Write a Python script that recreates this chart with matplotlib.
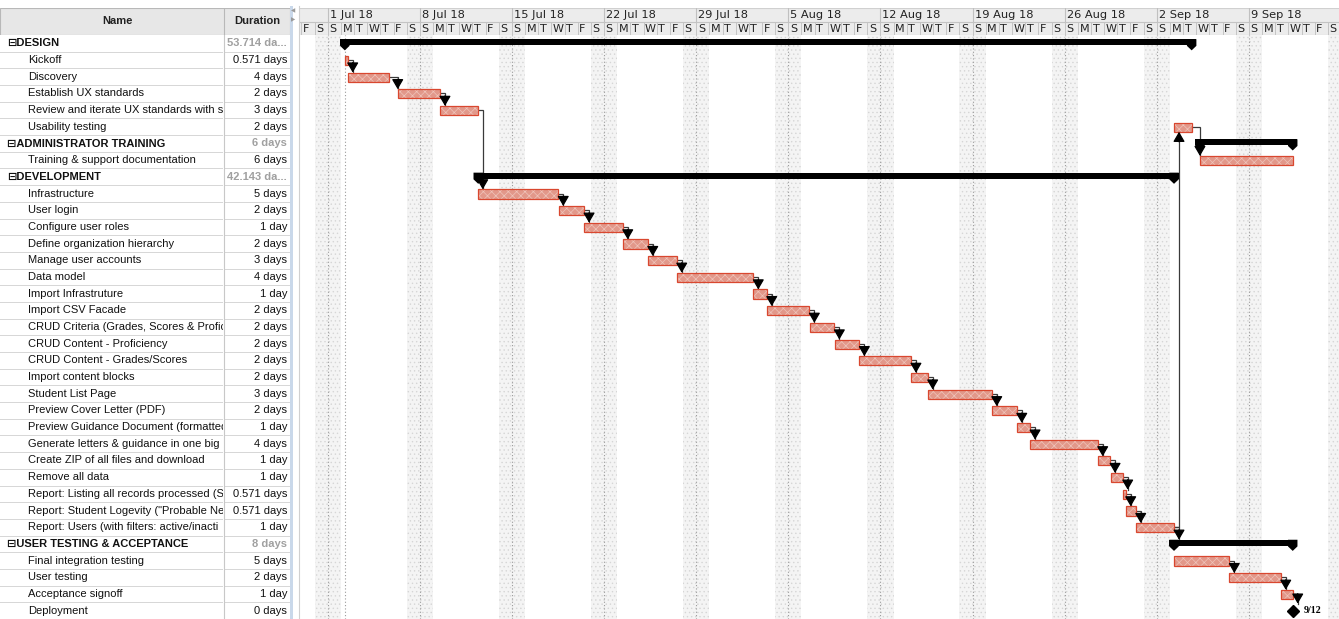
import matplotlib
matplotlib.use("Agg")
import matplotlib.pyplot as plt
from matplotlib.patches import Rectangle, Polygon

plt.rcParams["hatch.linewidth"] = 0.5

# ---------------- data ----------------
names = ["DESIGN", "Kickoff", "Discovery", "Establish UX standards",
         "Review and iterate UX standards with s", "Usability testing",
         "ADMINISTRATOR TRAINING", "Training & support documentation",
         "DEVELOPMENT", "Infrastructure", "User login", "Configure user roles",
         "Define organization hierarchy", "Manage user accounts", "Data model",
         "Import Infrastruture", "Import CSV Facade",
         "CRUD Criteria (Grades, Scores & Profic", "CRUD Content - Proficiency",
         "CRUD Content - Grades/Scores", "Import content blocks",
         "Student List Page", "Preview Cover Letter (PDF)",
         "Preview Guidance Document (formatted",
         "Generate letters & guidance in one big",
         "Create ZIP of all files and download", "Remove all data",
         "Report: Listing all records processed (S",
         "Report: Student Logevity (\"Probable Ne",
         "Report: Users (with filters: active/inacti",
         "USER TESTING & ACCEPTANCE", "Final integration testing",
         "User testing", "Acceptance signoff", "Deployment"]
durations = ["53.714 da...", "0.571 days", "4 days", "2 days", "3 days", "2 days",
             "6 days", "6 days", "42.143 da...", "5 days", "2 days", "1 day",
             "2 days", "3 days", "4 days", "1 day", "2 days", "2 days", "2 days",
             "2 days", "2 days", "3 days", "2 days", "1 day", "4 days", "1 day",
             "1 day", "0.571 days", "0.571 days", "1 day", "8 days", "5 days",
             "2 days", "1 day", "0 days"]
summary_rows = [0, 6, 8, 30]
summary_children = {0: [1, 2, 3, 4, 5], 6: [7], 8: list(range(9, 30)),
                    30: [31, 32, 33, 34]}
# task start / finish, in days after 1 Jul 2018 00:00 (None for summaries)
starts = [None, 1.30, 1.52, 5.32, 8.56, 64.31, None, 66.28, None,
          11.44, 17.60, 19.50, 22.44, 24.36, 26.57, 32.34, 33.36, 36.65, 38.57,
          40.40, 44.35, 45.64, 50.50, 52.36, 53.37, 58.56, 59.50, 60.46, 60.64,
          61.42, None, 64.31, 68.51, 72.42, 73.33]
ends = [None, 1.52, 4.68, 8.53, 11.40, 65.65, None, 73.33, None,
        17.52, 19.48, 22.42, 24.32, 26.52, 32.34, 33.36, 36.60, 38.50, 40.40,
        44.32, 45.59, 50.46, 52.36, 53.37, 58.51, 59.45, 60.41, 60.64, 61.40,
        64.31, None, 68.51, 72.42, 73.33, 73.33]
milestone_rows = [34]
milestone_labels = ["9/12"]
links = [(1, 2), (2, 3), (3, 4), (4, 9)] + [(i, i + 1) for i in range(9, 29)] + \
        [(29, 5), (29, 30), (5, 7), (31, 32), (32, 33), (33, 34)]
week_labels = ["1 Jul 18", "8 Jul 18", "15 Jul 18", "22 Jul 18", "29 Jul 18",
               "5 Aug 18", "12 Aug 18", "19 Aug 18", "26 Aug 18", "2 Sep 18",
               "9 Sep 18"]
day_letters = ["S", "M", "T", "W", "T", "F", "S"]   # Sunday first

for s in summary_rows:
    ch = summary_children[s]
    starts[s] = min(starts[c] for c in ch)
    ends[s] = max(ends[c] for c in ch)

# ---------------- layout ----------------
W, H = 1339, 619
HDR_TOP, HDR_BOT = 8, 35
NAME_W, TABLE_W, GANTT_X = 224, 290, 299
DAY0_X, PX_DAY = 327.7, 13.16
N = len(names)
FONT = ["Liberation Sans", "DejaVu Sans"]

fig = plt.figure(figsize=(W / 100, H / 100), dpi=100)


def box(x0, y0, x1, y1):
    return [x0 / W, 1 - y1 / H, (x1 - x0) / W, (y1 - y0) / H]


def bare(ax):
    ax.set_axis_off()
    return ax


xlim = ((GANTT_X - DAY0_X) / PX_DAY, (W - DAY0_X) / PX_DAY)
ylim = (N - 0.5, -0.5)

# ---------- gantt body ----------
ax = bare(fig.add_axes(box(GANTT_X, HDR_BOT, W, H)))
ax.set_xlim(*xlim)
ax.set_ylim(*ylim)

d = -8
while d < xlim[1] + 7:
    if d % 7 == 6:   # Saturday + Sunday shading
        ax.axvspan(d, d + 2, facecolor="#f4f4f4", edgecolor="#d6d6d6",
                   hatch="....", lw=0, zorder=0)
    if d % 7 == 0:
        ax.axvline(d, color="#9a9a9a", lw=0.8, ls=(0, (1, 2)), zorder=0.5)
    d += 1
ax.axvline(min(s for s in starts), color="#9a9a9a", lw=0.8, ls=(0, (1, 2)),
           zorder=0.5)

BAR_TOP, BAR_BOT = 0.25, 0.30
for i in range(N):
    s, e = starts[i], ends[i]
    if i in summary_rows:
        cap = 0.36
        ax.add_patch(Rectangle((s - cap, i - 0.25), (e - s) + 2 * cap, 0.36,
                               facecolor="black", edgecolor="none", zorder=3))
        for x in (s, e):
            ax.add_patch(Polygon([(x - cap, i - 0.25), (x + cap, i - 0.25),
                                  (x + cap, i + 0.15), (x, i + 0.42),
                                  (x - cap, i + 0.15)], closed=True,
                                 facecolor="black", edgecolor="none", zorder=3))
    elif i in milestone_rows:
        ax.plot([s], [i], marker="D", ms=6.5, color="black", zorder=4)
        lab = milestone_labels[milestone_rows.index(i)]
        ax.text(s + 0.85, i, lab, fontsize=7.2, fontweight="bold",
                family=["Liberation Serif", "DejaVu Serif"], va="center",
                ha="left", zorder=4)
    else:
        wdt = max(e - s, 0.12)
        ax.add_patch(Rectangle((s, i - BAR_TOP), wdt, BAR_TOP + BAR_BOT,
                               facecolor="#e2988a", edgecolor="#f0c4ba",
                               lw=0, hatch="xxxx", zorder=3))
        ax.add_patch(Rectangle((s, i - BAR_TOP), wdt, BAR_TOP + BAR_BOT,
                               fill=False, edgecolor="#d9472f", lw=0.9,
                               zorder=3.1))

for p, s in links:
    xa = max(ends[p] + 0.38, starts[s])
    if s > p:
        yt = s - (0.25 if s in summary_rows else BAR_TOP)
        if s in milestone_rows:
            yt = s - 0.42
    else:
        yt = s + BAR_BOT
    ax.plot([ends[p], xa, xa], [p, p, yt], color="#3a3a3a", lw=0.9,
            zorder=2, solid_joinstyle="miter")
    direction = 1 if s > p else -1
    ax.annotate("", xy=(xa, yt), xytext=(xa, yt - direction * 0.6),
                arrowprops=dict(arrowstyle="-|>,head_length=0.6,head_width=0.35",
                                mutation_scale=10, color="black", lw=0.9,
                                shrinkA=0, shrinkB=0), zorder=5)

# ---------- gantt header ----------
axh = bare(fig.add_axes(box(GANTT_X, HDR_TOP, W, HDR_BOT)))
axh.set_xlim(*xlim)
axh.set_ylim(HDR_BOT - HDR_TOP, 0)
axh.add_patch(Rectangle((xlim[0], 0), xlim[1] - xlim[0], 27,
                        facecolor="#ececec", edgecolor="none"))
axh.axhline(14, color="#c4c4c4", lw=0.8)
axh.axhline(26.6, color="#c4c4c4", lw=0.8)
axh.axhline(0.3, color="#d0d0d0", lw=0.8)
for k, lab in enumerate(week_labels):
    x = 7 * k
    axh.plot([x, x], [0, 14], color="#c0c0c0", lw=0.8)
    axh.text(x + 0.15, 7.5, lab, fontsize=8.2, family="DejaVu Sans",
             color="#222222", va="center", ha="left", clip_on=True)
d = int(xlim[0]) - 1
while d < xlim[1]:
    axh.plot([d, d], [14, 27], color="#c4c4c4", lw=0.7)
    axh.text(d + 0.12, 20.5, day_letters[d % 7], fontsize=8,
             family="DejaVu Sans", color="#222222", va="center", ha="left",
             clip_on=True)
    d += 1

# ---------- table ----------
axth = bare(fig.add_axes(box(0, HDR_TOP, TABLE_W, HDR_BOT)))
axth.set_xlim(0, TABLE_W)
axth.set_ylim(HDR_BOT - HDR_TOP, 0)
axth.add_patch(Rectangle((0, 0), TABLE_W, 27, facecolor="#e7e7e7",
                         edgecolor="#b8b8b8", lw=0.8))
axth.plot([NAME_W, NAME_W], [0, 27], color="#b8b8b8", lw=0.8)
axth.text(NAME_W / 2 + 5, 13.5, "Name", fontsize=8, fontweight="bold",
          family=FONT, ha="center", va="center", color="#222222")
axth.text((NAME_W + TABLE_W) / 2, 13.5, "Duration", fontsize=8,
          fontweight="bold", family=FONT, ha="center", va="center",
          color="#222222")

axn = bare(fig.add_axes(box(0, HDR_BOT, NAME_W - 1, H)))
axn.set_xlim(0, NAME_W - 1)
axn.set_ylim(*ylim)
axd = bare(fig.add_axes(box(NAME_W, HDR_BOT, TABLE_W, H)))
axd.set_xlim(NAME_W, TABLE_W)
axd.set_ylim(*ylim)
for i in range(N):
    axn.axhline(i + 0.5, color="#d6d6d6", lw=0.7)
    axd.axhline(i + 0.5, color="#d6d6d6", lw=0.7)
    if i in summary_rows:
        axn.text(7, i, "\u229f" + names[i], fontsize=8, fontweight="bold",
                 family=FONT, va="center", ha="left", color="#111111",
                 clip_on=True)
        axd.text(TABLE_W - 3, i, durations[i], fontsize=8, fontweight="bold",
                 family=FONT, va="center", ha="right", color="#a0a0a0",
                 clip_on=True)
    else:
        axn.text(28, i, names[i], fontsize=8, family=FONT, va="center",
                 ha="left", color="#111111", clip_on=True)
        axd.text(TABLE_W - 3, i, durations[i], fontsize=8, family=FONT,
                 va="center", ha="right", color="#111111", clip_on=True)

# separators
fig.add_artist(plt.Line2D([NAME_W / W] * 2, [0, 1 - HDR_BOT / H],
                          color="#c8c8c8", lw=0.8))
fig.add_artist(Rectangle((TABLE_W / W, 0), 3 / W, 1 - 6 / H,
                         transform=fig.transFigure, facecolor="#c9d8ea",
                         edgecolor="none"))
fig.add_artist(plt.Line2D([(GANTT_X - 0.5) / W] * 2, [0, 1 - 6 / H],
                          color="#d0d0d0", lw=0.8))
fig.text(293.5 / W, 1 - 11 / H, "\u25c0", fontsize=4, color="#9a9a9a",
         ha="center", va="center")
fig.text(293.5 / W, 1 - 20 / H, "\u25b6", fontsize=4, color="#9a9a9a",
         ha="center", va="center")

fig.savefig("out.png", dpi=100)
